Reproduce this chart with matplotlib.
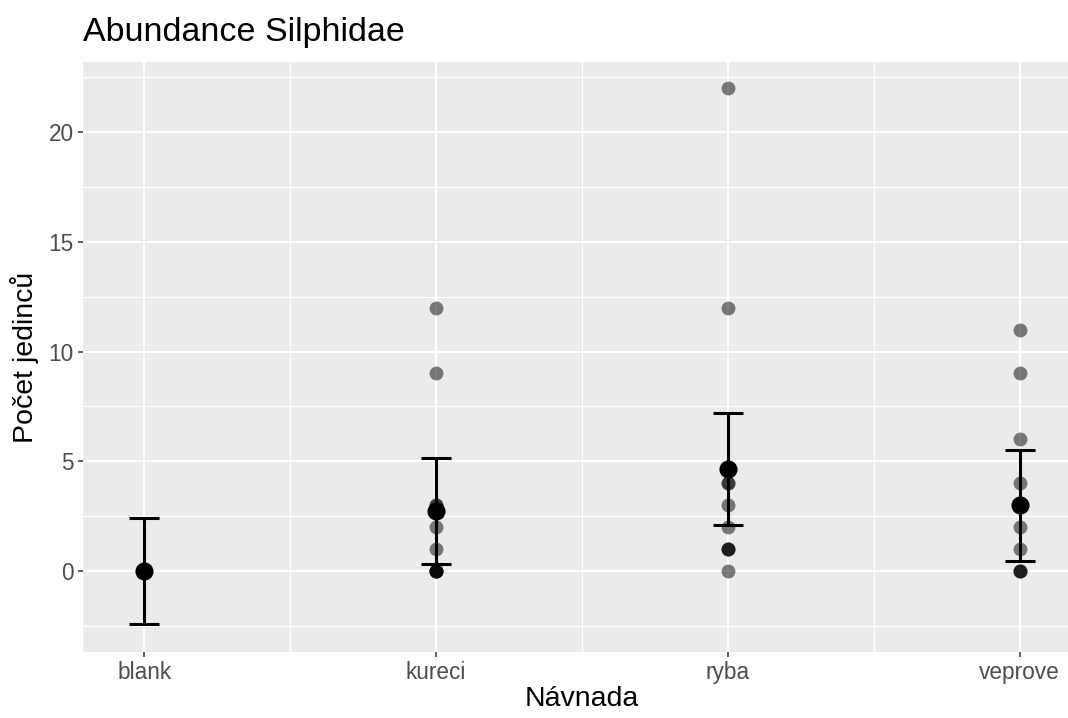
import numpy as np
import matplotlib
matplotlib.use("Agg")
import matplotlib.pyplot as plt
from matplotlib.ticker import MultipleLocator

plt.rcParams['font.family'] = ['Liberation Sans', 'DejaVu Sans']

# kategorie navnad
navnada = ["blank", "kureci", "ryba", "veprove"]

# pocty jedincu v jednotlivych pastech
blank = [0, 0, 0, 0, 0, 0, 0, 0, 0, 0]
kureci = [12, 9, 3, 3, 2, 1, 0, 0, 0, 0, 0]
ryba = [22, 12, 4, 4, 3, 2, 1, 1, 1, 0]
veprove = [11, 9, 6, 4, 3, 2, 1, 0, 0, 0]

# odhad prumeru a intervaly
prumer = [0.0, 2.73, 4.64, 3.0]
dolni = [-2.42, 0.32, 2.10, 0.47]
horni = [2.42, 5.16, 7.18, 5.50]

data = [blank, kureci, ryba, veprove]

fig = plt.figure(figsize=(10.68, 7.18), dpi=100)
W, H = 1068, 718
ax = fig.add_axes([83 / W, 1 - 652 / H, (1081 - 83) / W, (652 - 62) / H])
ax.set_facecolor("#EBEBEB")

x = np.arange(1, len(navnada) + 1)

# jednotlive pasti
for i, vals in enumerate(data):
    ax.scatter(np.full(len(vals), x[i]), vals, s=100, color="black",
               alpha=0.5, linewidths=0, zorder=3)

# prumery s chybovymi usecky
prumer = np.array(prumer)
yerr = [prumer - np.array(dolni), np.array(horni) - prumer]
ax.errorbar(x, prumer, yerr=yerr, fmt="none", ecolor="black",
            elinewidth=2.2, capsize=10.5, capthick=2.2, zorder=4)
ax.scatter(x, prumer, s=170, color="black", linewidths=0, zorder=5)

ax.set_xlim(0.79, 4.21)
ax.set_ylim(-3.69, 23.19)
ax.set_xticks(x)
ax.set_xticklabels(navnada)
ax.yaxis.set_major_locator(MultipleLocator(5))
ax.yaxis.set_minor_locator(MultipleLocator(2.5))
ax.set_xticks([1.5, 2.5, 3.5], minor=True)

ax.grid(which="major", color="white", linewidth=1.5)
ax.grid(which="minor", color="white", linewidth=0.8)
ax.set_axisbelow(True)
for s in ax.spines.values():
    s.set_visible(False)

ax.tick_params(which="major", length=3.7, width=1.1, color="#333333",
               labelsize=16.3, labelcolor="#4D4D4D", pad=3)
ax.tick_params(which="minor", length=0)

ax.set_xlabel("Návnada", fontsize=20.5, color="black", labelpad=1)
ax.set_ylabel("Počet jedinců", fontsize=20.5, color="black", labelpad=7)
fig.text(83 / W, 1 - 33 / H, "Abundance Silphidae", fontsize=24.5,
         ha="left", va="center")

fig.savefig("out.png", dpi=100)
